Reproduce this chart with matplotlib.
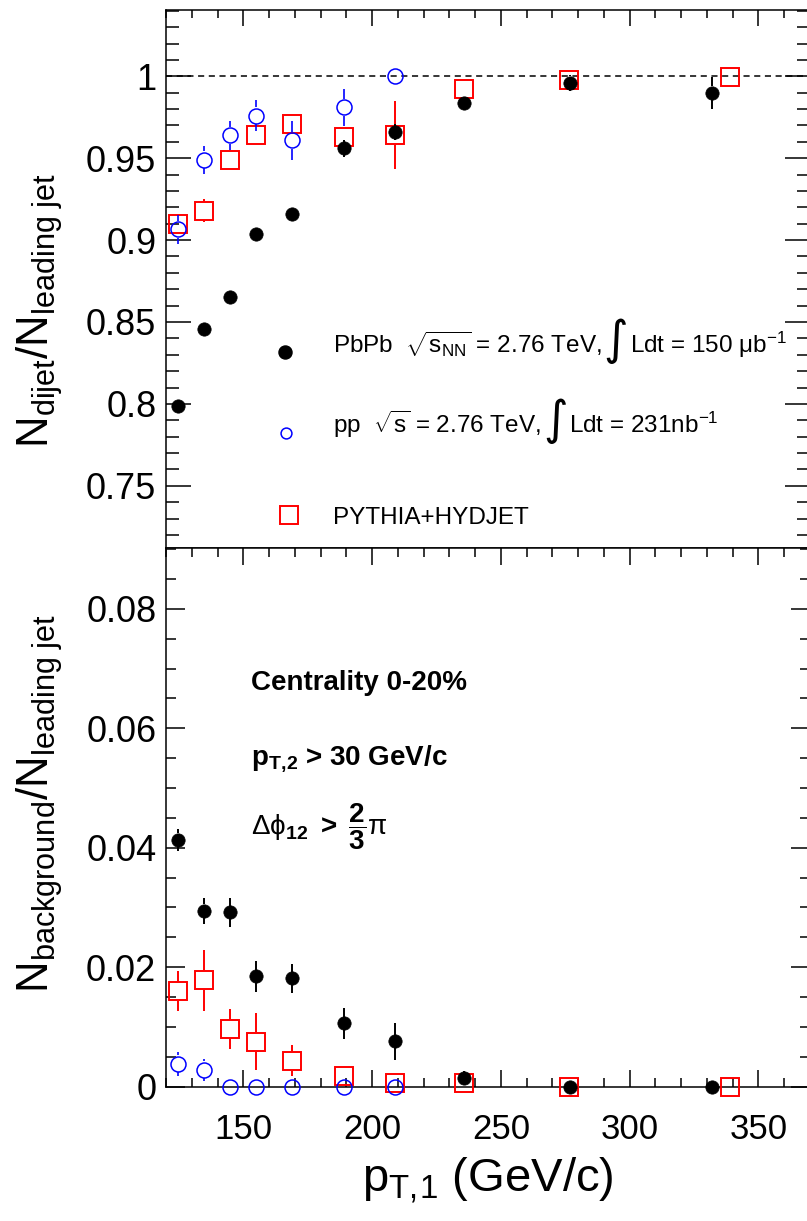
import matplotlib
matplotlib.use('Agg')
import matplotlib.pyplot as plt
from matplotlib.ticker import MultipleLocator, FuncFormatter
from matplotlib.lines import Line2D
import numpy as np

plt.rcParams['font.family'] = ['Liberation Sans', 'DejaVu Sans']
plt.rcParams['mathtext.fontset'] = 'custom'
plt.rcParams['mathtext.rm'] = 'Liberation Sans'
plt.rcParams['mathtext.it'] = 'Liberation Sans:italic'
plt.rcParams['mathtext.bf'] = 'Liberation Sans:bold'
plt.rcParams['mathtext.sf'] = 'Liberation Sans'

# ---------------- data ----------------
pt_pbpb = [124.5, 134.8, 145.0, 155.0, 169.0, 189.0, 208.8, 235.8, 276.8, 331.8]
pt_pp = [124.5, 134.8, 145.0, 155.0, 169.0, 189.0, 208.8]
pt_mc = [124.5, 134.8, 145.0, 155.0, 169.0, 189.0, 208.8, 235.8, 276.3, 339.0]

dijet_pbpb = [0.799, 0.846, 0.865, 0.904, 0.916, 0.956, 0.966, 0.984, 0.996, 0.990]
dijet_pbpb_err = [0.002, 0.002, 0.002, 0.002, 0.002, 0.005, 0.005, 0.003, 0.005, 0.0098]
dijet_pp = [0.9065, 0.949, 0.964, 0.976, 0.961, 0.981, 1.000]
dijet_pp_err = [0.009, 0.0085, 0.0087, 0.0095, 0.0118, 0.0113, 0.0]
dijet_mc = [0.910, 0.918, 0.949, 0.964, 0.971, 0.963, 0.964, 0.992, 0.998, 0.9995]
dijet_mc_err = [0.004, 0.007, 0.004, 0.004, 0.004, 0.004, 0.0207, 0.004, 0.004, 0.003]

bkg_pbpb = [0.0413, 0.0294, 0.0292, 0.0185, 0.0181, 0.0106, 0.0076, 0.0014, 0.0, 0.0]
bkg_pbpb_err = [0.0018, 0.0021, 0.0024, 0.0026, 0.0025, 0.0026, 0.0031, 0.0012, 0.0003, 0.0003]
bkg_pp = [0.0038, 0.0028, 0.0, 0.0, 0.0, 0.0, 0.0]
bkg_pp_err = [0.0020, 0.0018, 0.0, 0.0, 0.0, 0.0, 0.0]
bkg_mc = [0.0160, 0.0178, 0.0096, 0.0075, 0.0043, 0.0018, 0.0006, 0.0006, 0.0, 0.0]
bkg_mc_err = [0.0033, 0.0051, 0.0034, 0.0048, 0.0026, 0.0010, 0.0005, 0.0005, 0.0, 0.0]

legend_labels = [r"PbPb  $\sqrt{\mathrm{s}_{\mathrm{NN}}}$ = 2.76 TeV,",
                 r"pp  $\sqrt{\mathrm{s}}$ = 2.76 TeV,", "PYTHIA+HYDJET"]
legend_lumi = [r"Ldt = 150 μb$^{\mathrm{-1}}$", r"Ldt = 231nb$^{\mathrm{-1}}$"]
cut_texts = ["Centrality 0-20%", r"$\mathbf{p}_{\mathbf{T,\!2}}$ > 30 GeV/c",
             r"$\Delta\mathrm{\phi}_{\mathbf{12}}$ $\mathbf{>}$ $\dfrac{\mathbf{2}}{\mathbf{3}}\mathrm{\pi}$"]

# ---------------- figure ----------------
W, H = 807, 1221
fig = plt.figure(figsize=(W / 100, H / 100), dpi=100)


def fx(px):
    return px / W


def fy(py):
    return 1 - py / H


ax_top = fig.add_axes([fx(166), fy(548), 644 / W, 538 / H])
ax_bot = fig.add_axes([fx(166), fy(1086.5), 644 / W, 538.5 / H])

ax_top.set_xlim(120, 370)
ax_bot.set_xlim(120, 370)
ax_top.set_ylim(0.712, 1.0405)
ax_bot.set_ylim(0.0, 0.0902)

fmt = FuncFormatter(lambda v, p: '%g' % round(v, 6))
for ax in (ax_top, ax_bot):
    ax.xaxis.set_major_locator(MultipleLocator(50))
    ax.xaxis.set_minor_locator(MultipleLocator(10))
    ax.yaxis.set_major_formatter(fmt)
    for sp in ax.spines.values():
        sp.set_linewidth(1.1)

ax_top.yaxis.set_major_locator(MultipleLocator(0.05))
ax_top.yaxis.set_minor_locator(MultipleLocator(0.01))
ax_bot.yaxis.set_major_locator(MultipleLocator(0.02))
ax_bot.yaxis.set_minor_locator(MultipleLocator(0.005))

ax_top.tick_params(axis='y', which='major', direction='in', length=18, width=1.1,
                   left=True, right=True, labelsize=26, pad=7)
ax_top.tick_params(axis='y', which='minor', direction='in', length=9.4, width=1.1,
                   left=True, right=True)
ax_top.tick_params(axis='x', which='major', direction='in', length=11.5, width=1.1,
                   top=True, bottom=False, labelbottom=False)
ax_top.tick_params(axis='x', which='minor', direction='in', length=6, width=1.1,
                   top=True, bottom=False)

ax_bot.tick_params(axis='y', which='major', direction='in', length=14, width=1.1,
                   left=True, right=True, labelsize=26, pad=7)
ax_bot.tick_params(axis='y', which='minor', direction='in', length=7, width=1.1,
                   left=True, right=True)
ax_bot.tick_params(axis='x', which='major', direction='in', length=12.5, width=1.1,
                   top=True, bottom=True, labelsize=25, pad=19)
ax_bot.tick_params(axis='x', which='minor', direction='in', length=6.5, width=1.1,
                   top=True, bottom=True)

ax_top.axhline(1.0, color='black', lw=1.1, dashes=(4, 3), zorder=2)


def draw_series(ax, x, y, err, color, marker, ms, mew, mfc, elw, z, half_px):
    x = np.asarray(x, float)
    y = np.asarray(y, float)
    err = np.asarray(err, float)
    y0, y1 = ax.get_ylim()
    ppu = ax.get_window_extent().height / (y1 - y0)
    gap = half_px / ppu
    m = err > gap
    if m.any():
        ax.vlines(x[m], y[m] + gap, y[m] + err[m], colors=color, lw=elw, zorder=z, clip_on=False)
        ax.vlines(x[m], y[m] - err[m], y[m] - gap, colors=color, lw=elw, zorder=z, clip_on=False)
    ax.plot(x, y, ls='none', marker=marker, ms=ms, mec=color, mfc=mfc, mew=mew,
            zorder=z + 0.5, clip_on=False)


for ax, yp, ype, ypp, yppe, ymc, ymce in (
        (ax_top, dijet_pbpb, dijet_pbpb_err, dijet_pp, dijet_pp_err, dijet_mc, dijet_mc_err),
        (ax_bot, bkg_pbpb, bkg_pbpb_err, bkg_pp, bkg_pp_err, bkg_mc, bkg_mc_err)):
    draw_series(ax, pt_mc, ymc, ymce, '#ff0000', 's', 13, 1.4, 'none', 1.4, 3, 10)
    draw_series(ax, pt_pp, ypp, yppe, '#0000ff', 'o', 10.8, 1.1, 'none', 1.2, 4, 8.5)
    draw_series(ax, pt_pbpb, yp, ype, 'black', 'o', 9.6, 0.5, 'black', 1.4, 5, 6.5)

# ---------------- legend (top panel) ----------------
fig.add_artist(Line2D([fx(285)], [fy(351.7)], marker='o', ms=9.4, mfc='black', mec='black',
                      transform=fig.transFigure))
fig.add_artist(Line2D([fx(286)], [fy(433)], marker='o', ms=7.8, mfc='none', mec='#0000ff',
                      mew=1.1, transform=fig.transFigure))
fig.add_artist(Line2D([fx(289)], [fy(515)], marker='s', ms=13, mfc='none', mec='#ff0000',
                      mew=1.4, transform=fig.transFigure))

LFS = 17.5
renderer = fig.canvas.get_renderer()
for lab, lumi, base in ((legend_labels[0], legend_lumi[0], 352.7),
                        (legend_labels[1], legend_lumi[1], 433.0)):
    t = fig.text(fx(333), fy(base), lab, fontsize=LFS, va='baseline', ha='left')
    right_px = t.get_window_extent(renderer).x1
    it = fig.text(0, fy(base - 11.5), "∫", fontsize=34,
                  family=['DejaVu Sans', 'Liberation Sans'], va='center', ha='center')
    iw = it.get_window_extent(renderer).width
    icx = right_px + iw / 2 + 2
    it.set_x(icx / W)
    fig.text((icx + iw / 2 + 2) / W, fy(base), lumi, fontsize=LFS, va='baseline', ha='left')
fig.text(fx(333), fy(524), legend_labels[2], fontsize=LFS, va='baseline', ha='left')

# ---------------- cut texts (bottom panel) ----------------
fig.text(fx(251), fy(690), cut_texts[0], fontsize=20, fontweight='bold', va='baseline')
fig.text(fx(251), fy(765), cut_texts[1], fontsize=20, fontweight='bold', va='baseline')
fig.text(fx(251), fy(835), cut_texts[2], fontsize=20, va='baseline')

# ---------------- axis titles ----------------
fig.text(fx(40), fy(311), r"N$_{\mathrm{dijet}}$/N$_{\mathrm{leading\ jet}}$", fontsize=31.5,
         rotation=90, ha='center', va='center')
fig.text(fx(40), fy(803.5), r"N$_{\mathrm{background}}$/N$_{\mathrm{leading\ jet}}$", fontsize=31.5,
         rotation=90, ha='center', va='center')
fig.text(fx(488), fy(1192), r"p$_{\mathrm{T,\!1}}$ (GeV/c)", fontsize=34, ha='center', va='baseline')

fig.savefig('out.png', dpi=100, facecolor='white')
